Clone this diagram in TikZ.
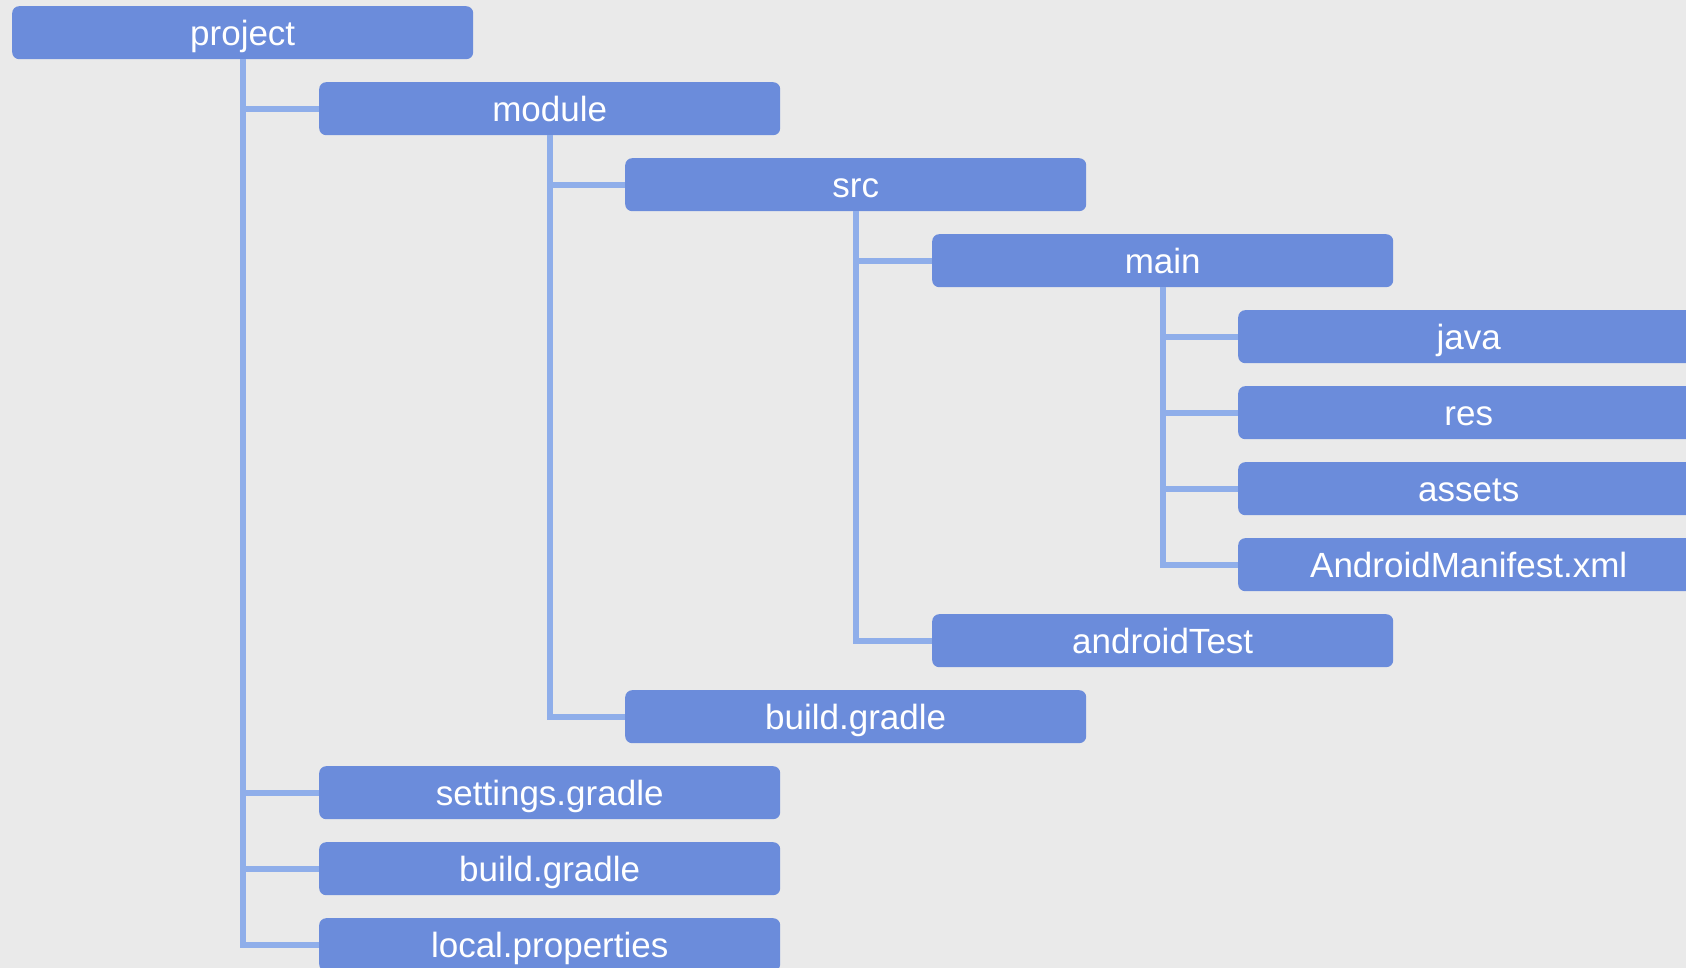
\documentclass[tikz,border=0pt]{standalone}
\usepackage{fontspec}
\setmainfont{Liberation Sans}
\definecolor{bgc}{HTML}{EAEAEA}
\definecolor{boxc}{HTML}{6B8CDB}
\definecolor{linec}{HTML}{8FAEEA}
\begin{document}
\begin{tikzpicture}[x=1pt,y=-1pt,
  filebox/.style={draw=none,fill=boxc,rounded corners=7pt,minimum width=461pt,minimum height=53pt,
    inner sep=0pt,text height=39pt,text depth=14pt,anchor=north west,text=white,font=\fontsize{35}{40}\selectfont},
  conn/.style={draw=linec,line width=6pt,line join=miter}]
\fill[bgc] (0,0) rectangle (1686,968);
\useasboundingbox (0,0) rectangle (1686,968);
\node[filebox] (project) at (12,6) {project};
\node[filebox] (module) at (319,82) {module};
\node[filebox] (src) at (625,158) {src};
\node[filebox] (main) at (932,234) {main};
\node[filebox] (java) at (1238,310) {java};
\node[filebox] (res) at (1238,386) {res};
\node[filebox] (assets) at (1238,462) {assets};
\node[filebox] (manifest) at (1238,538) {AndroidManifest.xml};
\node[filebox] (atest) at (932,614) {androidTest};
\node[filebox] (mbuild) at (625,690) {build.gradle};
\node[filebox] (settings) at (319,766) {settings.gradle};
\node[filebox] (pbuild) at (319,842) {build.gradle};
\node[filebox] (local) at (319,918) {local.properties};
\begin{scope}[on background layer/.style={}]
\end{scope}
\draw[conn] (project.south) |- (local.west);
\draw[conn] (project.south) |- (module.west);
\draw[conn] (project.south) |- (settings.west);
\draw[conn] (project.south) |- (pbuild.west);
\draw[conn] (module.south) |- (mbuild.west);
\draw[conn] (module.south) |- (src.west);
\draw[conn] (src.south) |- (atest.west);
\draw[conn] (src.south) |- (main.west);
\draw[conn] (main.south) |- (manifest.west);
\draw[conn] (main.south) |- (java.west);
\draw[conn] (main.south) |- (res.west);
\draw[conn] (main.south) |- (assets.west);
\end{tikzpicture}
\end{document}
